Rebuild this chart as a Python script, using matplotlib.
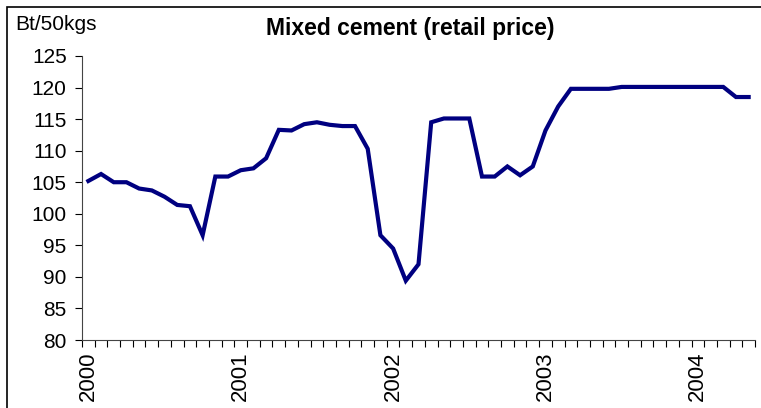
import numpy as np
import matplotlib.pyplot as plt
from matplotlib.patches import Rectangle

plt.rcParams['font.family'] = ['Liberation Sans', 'DejaVu Sans']

# monthly retail price, Jan 2000 - May 2004
price = [105.2, 106.3, 105.0, 105.0, 104.0, 103.7, 102.7, 101.4, 101.2, 96.6,
         105.9, 105.9, 106.9, 107.2, 108.8, 113.3, 113.2, 114.2, 114.5, 114.1,
         113.9, 113.9, 110.3, 96.6, 94.5, 89.4, 92.0, 114.5, 115.1, 115.1,
         115.1, 105.9, 105.9, 107.5, 106.1, 107.5, 113.2, 117.0, 119.8, 119.8,
         119.8, 119.8, 120.1, 120.1, 120.1, 120.1, 120.1, 120.1, 120.1, 120.1,
         120.1, 118.5, 118.5]
years = ['2000', '2001', '2002', '2003', '2004']
yticks = [80, 85, 90, 95, 100, 105, 110, 115, 120, 125]

fig = plt.figure(figsize=(7.61, 4.08), dpi=100)
ax = fig.add_axes([82 / 761, 68 / 408, 673 / 761, 284 / 408])

x = np.arange(len(price))
ax.plot(x, price, color='#000080', linewidth=3, solid_joinstyle='miter')

ax.set_xlim(-0.5, len(price) - 0.5)
ax.set_ylim(80, 125)
ax.set_yticks(yticks)
ax.tick_params(axis='y', direction='out', length=5, width=0.8, labelsize=15, pad=6)

# year labels at each January, tick marks between months
ax.set_xticks(np.arange(0, len(price), 12))
ax.set_xticklabels(years, rotation=90, fontsize=16)
ax.tick_params(axis='x', which='major', length=0, pad=8)
ax.set_xticks(np.arange(-0.5, len(price), 1), minor=True)
ax.tick_params(axis='x', which='minor', direction='out', length=5, width=0.8)

for side in ['top', 'right']:
    ax.spines[side].set_visible(False)
for side in ['left', 'bottom']:
    ax.spines[side].set_color('#444444')

fig.text(410 / 761, 1 - 28 / 408, 'Mixed cement (retail price)', ha='center', va='center',
         fontsize=16.5, fontweight='bold')
fig.text(15 / 761, 1 - 25 / 408, 'Bt/50kgs', ha='left', va='center', fontsize=15)

fig.patches.append(Rectangle((7 / 761, -0.2), 1.2, 1.2 - 6.5 / 408, transform=fig.transFigure,
                             fill=False, edgecolor='black', linewidth=1.2))

fig.savefig('out.png', dpi=100)
